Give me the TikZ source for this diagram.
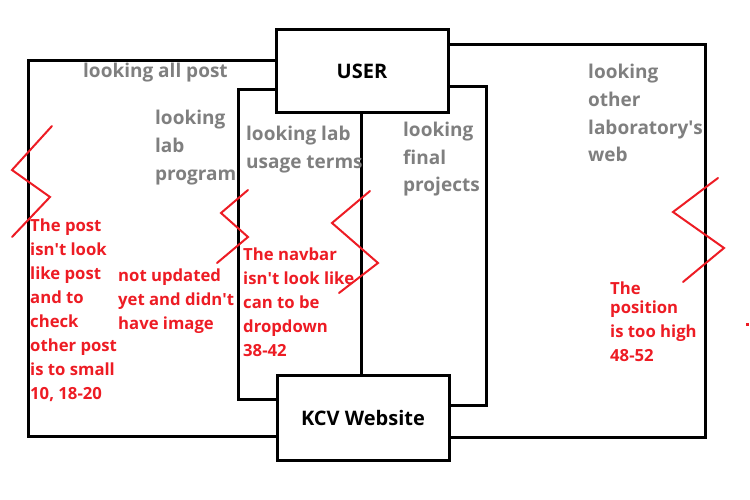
\documentclass[tikz,border=0pt]{standalone}
\usepackage{fontspec}
\setmainfont{Open Sans}
\newcommand{\apos}{\textquotesingle}
\begin{document}
\definecolor{notegray}{HTML}{7F7F7F}
\definecolor{notered}{HTML}{ED1C24}
\begin{tikzpicture}[x=1pt,y=-1pt,
  wire/.style={line width=3pt, line join=miter},
  box/.style={draw, line width=3pt, minimum width=172pt, inner sep=0pt,
    font=\fontsize{20}{23}\selectfont\bfseries},
  action/.style={anchor=base west, inner sep=0pt, align=left, text=notegray,
    font=\fontsize{19}{27.7}\selectfont\bfseries},
  issue/.style={anchor=base west, inner sep=0pt, align=left, text=notered,
    font=\fontsize{16.7}{24}\selectfont\bfseries},
  strike/.style={draw=notered, line width=2pt, line cap=round}]
\useasboundingbox (0,0) rectangle (750,500);

% the two endpoints
\node[box, minimum height=83pt] (user) at (362,71.5) {USER};
\node[box, minimum height=85pt] (kcv) at (363,417.5) {KCV Website};

% corners of the four routes
\coordinate (c1) at (28.5,436);
\coordinate (c2) at (238,399);
\coordinate (mid) at (361.7,0);
\coordinate (c3) at (486,405);
\coordinate (c4) at (705,437);

\draw[wire] ([yshift=-32pt]user.north west) -| (c1) -- (kcv.west |- c1);
\draw[wire] ([yshift=-61pt]user.north west) -| (c2) -- (kcv.west |- c2);
\draw[wire] (user.south -| mid) -- (kcv.north -| mid);
\draw[wire] ([yshift=-58pt]user.north east) -| (c3) -- (kcv.east |- c3);
\draw[wire] ([yshift=-16pt]user.north east) -| (c4) -- (kcv.east |- c4);

% route labels (placed by the baseline of their last line)
\node[action] (allpost) at (83,78) {looking all post};
\node[action] (program) at (155,180) {looking\\lab\\program};
\node[action] (terms) at (246,168) {looking lab\\usage terms};
\node[action] (final) at (403,192) {looking\\final\\projects};
\node[action] (other) at (588,162) {looking\\other\\laboratory\apos s\\web};

% problem notes
\node[issue] (n1) at (30,399) {The post\\isn\apos t look\\like post\\and to\\check\\other post\\is to small\\10, 18-20};
\node[issue] (n2) at (118,329) {not updated\\yet and didn\apos t\\have image};
\node[issue] (n3) at (243,356) {The navbar\\isn\apos t look like\\can to be\\dropdown\\38-42};
\node[issue] (n4) at (610,361) {The\\[-5pt]position\\is too high\\48-52};

% break marks across the routes
\draw[strike] (52,126) -- (12,170) -- (50,197) -- (12,237);
\draw[strike] (248,190) -- (221,213) -- (248,237) -- (217,263);
\draw[strike] (370,191) -- (332,223) -- (378,263) -- (339,293);
\draw[strike] (718,178) -- (673,212) -- (724,248) -- (683,282);
\fill[notered] (746,323) rectangle (749,326);
\end{tikzpicture}
\end{document}
